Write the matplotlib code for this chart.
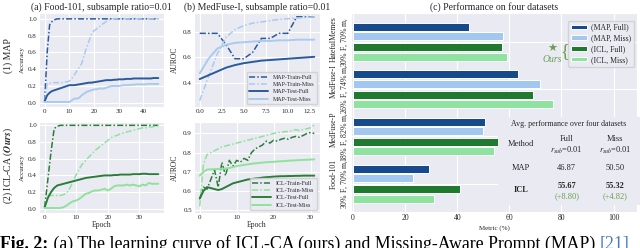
import numpy as np
import matplotlib.pyplot as plt
import seaborn as sns

sns.set_style('darkgrid')
plt.rcParams['font.family'] = ['Liberation Serif', 'DejaVu Serif']
plt.rcParams['mathtext.fontset'] = 'stix'

# ---- (a) Food-101 learning curves (accuracy) ----
a_map_train_full = [0.02, 0.60, 0.93, 0.97, 0.99, 1.0, 1.0, 1.0, 1.0, 1.0,
                    1.0, 1.0, 1.0, 1.0, 1.0, 1.0, 1.0, 1.0, 1.0, 1.0,
                    1.0, 1.0, 1.0, 1.0, 1.0, 1.0, 1.0, 1.0, 1.0, 1.0,
                    1.0, 1.0, 1.0, 1.0, 1.0, 1.0, 1.0, 1.0, 1.0, 1.0,
                    1.0, 1.0, 1.0, 1.0, 1.0, 1.0, 1.0]
a_map_train_miss = [0.02, 0.23, 0.23, 0.24, 0.24, 0.24, 0.24, 0.24, 0.25, 0.25,
                    0.26, 0.29, 0.33, 0.38, 0.42, 0.47, 0.57, 0.66, 0.74, 0.82,
                    0.86, 0.88, 0.90, 0.93, 0.95, 0.97, 0.99, 1.0, 1.0, 1.0,
                    1.0, 1.0, 1.0, 1.0, 1.0, 1.0, 1.0, 1.0, 1.0, 1.0,
                    1.0, 1.0, 1.0, 1.0, 1.0, 1.0, 1.0]
a_map_test_full = [0.02, 0.09, 0.12, 0.14, 0.15, 0.16, 0.17, 0.18, 0.19, 0.20,
                   0.21, 0.21, 0.21, 0.215, 0.22, 0.225, 0.23, 0.235, 0.24, 0.24,
                   0.245, 0.25, 0.255, 0.26, 0.265, 0.27, 0.27, 0.27, 0.275, 0.275,
                   0.28, 0.28, 0.28, 0.285, 0.285, 0.285, 0.29, 0.29, 0.29, 0.29,
                   0.29, 0.29, 0.29, 0.29, 0.295, 0.295, 0.295]
a_map_test_miss = [0.01, 0.01, 0.01, 0.01, 0.01, 0.01, 0.01, 0.01, 0.01, 0.01,
                   0.01, 0.03, 0.05, 0.05, 0.06, 0.09, 0.11, 0.13, 0.14, 0.15,
                   0.16, 0.16, 0.17, 0.17, 0.17, 0.18, 0.19, 0.20, 0.20, 0.20,
                   0.20, 0.205, 0.21, 0.21, 0.21, 0.215, 0.215, 0.22, 0.22, 0.22,
                   0.22, 0.22, 0.225, 0.225, 0.225, 0.225, 0.225]

a_icl_train_full = [0.02, 0.35, 0.68, 0.96, 0.99, 1.0, 1.0, 1.0, 1.0, 1.0,
                    1.0, 1.0, 1.0, 1.0, 1.0, 1.0, 1.0, 1.0, 1.0, 1.0,
                    1.0, 1.0, 1.0, 1.0, 1.0, 1.0, 1.0, 1.0, 1.0, 1.0,
                    1.0, 1.0, 1.0, 1.0, 1.0, 1.0, 1.0]
a_icl_train_miss = [0.02, 0.16, 0.16, 0.16, 0.16, 0.16, 0.17, 0.19, 0.25, 0.33,
                    0.41, 0.48, 0.54, 0.58, 0.62, 0.66, 0.70, 0.73, 0.76, 0.79,
                    0.82, 0.85, 0.87, 0.88, 0.90, 0.91, 0.92, 0.93, 0.94, 0.95,
                    0.96, 0.97, 0.97, 0.98, 0.98, 0.99, 0.99]
a_icl_test_full = [0.02, 0.13, 0.20, 0.25, 0.28, 0.29, 0.30, 0.31, 0.32, 0.33,
                   0.34, 0.35, 0.36, 0.37, 0.375, 0.38, 0.385, 0.39, 0.395, 0.40,
                   0.40, 0.40, 0.405, 0.405, 0.41, 0.41, 0.41, 0.41, 0.415, 0.415,
                   0.415, 0.42, 0.42, 0.415, 0.415, 0.415, 0.415]
a_icl_test_miss = [0.01, 0.01, 0.01, 0.01, 0.01, 0.01, 0.02, 0.04, 0.07, 0.09,
                   0.10, 0.12, 0.15, 0.18, 0.19, 0.21, 0.22, 0.22, 0.23, 0.24,
                   0.22, 0.24, 0.27, 0.28, 0.28, 0.28, 0.29, 0.28, 0.29, 0.28,
                   0.27, 0.29, 0.28, 0.31, 0.30, 0.30, 0.30]

# ---- (b) MedFuse-I learning curves (AUROC) ----
b_map_train_full = [0.79, 0.79, 0.79, 0.70, 0.59, 0.59, 0.64, 0.75, 0.75, 0.79,
                    0.79, 0.92, 0.92, 0.92]
b_map_train_miss = [0.26, 0.45, 0.63, 0.76, 0.82, 0.85, 0.87, 0.88, 0.89, 0.90,
                    0.905, 0.91, 0.915, 0.92]
b_map_test_full = [0.43, 0.46, 0.49, 0.52, 0.54, 0.555, 0.565, 0.575, 0.58, 0.585,
                   0.59, 0.595, 0.60, 0.605]
b_map_test_miss = [0.475, 0.59, 0.67, 0.70, 0.715, 0.72, 0.725, 0.73, 0.73, 0.735,
                   0.735, 0.74, 0.74, 0.74]

b_icl_train_full = [0.56, 0.62, 0.61, 0.66, 0.71, 0.62, 0.75, 0.68, 0.76, 0.73,
                    0.76, 0.75, 0.77, 0.76, 0.80, 0.82, 0.83, 0.84, 0.86, 0.85,
                    0.865, 0.86, 0.87, 0.875, 0.87, 0.88, 0.885, 0.88, 0.89, 0.90,
                    0.905, 0.90]
b_icl_train_miss = [0.52, 0.74, 0.79, 0.80, 0.81, 0.82, 0.83, 0.835, 0.84, 0.845,
                    0.85, 0.855, 0.86, 0.865, 0.87, 0.875, 0.88, 0.885, 0.89, 0.895,
                    0.90, 0.905, 0.905, 0.91, 0.91, 0.915, 0.92, 0.915, 0.92, 0.925,
                    0.93, 0.945]
b_icl_test_full = [0.56, 0.60, 0.62, 0.615, 0.61, 0.605, 0.61, 0.62, 0.63, 0.64,
                   0.645, 0.65, 0.655, 0.66, 0.662, 0.665, 0.667, 0.67, 0.672, 0.673,
                   0.675, 0.676, 0.677, 0.677, 0.678, 0.678, 0.679, 0.679, 0.68, 0.68,
                   0.68, 0.68]
b_icl_test_miss = [0.68, 0.70, 0.712, 0.713, 0.714, 0.715, 0.716, 0.717, 0.72, 0.725,
                   0.73, 0.733, 0.736, 0.739, 0.742, 0.744, 0.746, 0.748, 0.75, 0.751,
                   0.752, 0.754, 0.755, 0.756, 0.758, 0.759, 0.76, 0.761, 0.762, 0.763,
                   0.764, 0.765]

# ---- (c) performance on four datasets ----
datasets = ['HatefulMemes', 'MedFuse-I', 'MedFuse-P', 'Food-101']
splits = ['30% F, 70% m$_t$', '26% F, 74% m$_t$', '18% F, 82% m$_t$', '30% F, 70% m$_t$']
map_full = [44.6, 63.2, 50.7, 29.0]
map_miss = [57.4, 71.8, 49.8, 23.0]
icl_full = [57.2, 69.0, 55.5, 41.0]
icl_miss = [59.0, 76.9, 54.2, 31.2]
bar_labels = ['(MAP, Full)', '(MAP, Miss)', '(ICL, Full)', '(ICL, Miss)']

# table of averages
tab_methods = ['MAP', 'ICL']
tab_full = ['46.87', '55.67']
tab_miss = ['50.50', '55.32']
tab_gain = ['(+8.80)', '(+4.82)']

DARK_BLUE = '#2a5a9c'
LIGHT_BLUE = '#a8cbef'
DARK_GREEN = '#2a7d39'
LIGHT_GREEN = '#8fe29c'
BAR_COLORS = ['#174a8c', '#a2c7f0', '#1f7a30', '#8fe2a0']
OURS = '#6a9e52'
DASHDOT = (0, (4, 1.4, 1, 1.4))

W, H = 640, 248
fig = plt.figure(figsize=(6.4, 2.48), dpi=100)


def box(l, t, r, b):
    return [l / W, 1 - b / H, (r - l) / W, (b - t) / H]


def fx(px):
    return px / W


def fy(py):
    return 1 - py / H


def curves(ax, ys, dark, light, prefix, legend):
    x = np.arange(len(ys[0]))
    ax.plot(x, ys[0], color=dark, ls=DASHDOT, lw=1.1, label=prefix + '-Train-Full')
    ax.plot(x, ys[1], color=light, ls=DASHDOT, lw=1.1, label=prefix + '-Train-Miss')
    ax.plot(x, ys[2], color=dark, lw=1.4, label=prefix + '-Test-Full')
    ax.plot(x, ys[3], color=light, lw=1.4, label=prefix + '-Test-Miss')
    ax.tick_params(labelsize=5, pad=1.5, length=0)
    ax.grid(lw=0.8)
    if legend:
        ax.legend(loc='lower right', fontsize=4.3, handlelength=3.2,
                  labelspacing=0.35, borderpad=0.4, framealpha=0.8)


ax_a1 = fig.add_axes(box(39, 13, 164, 107))
ax_a2 = fig.add_axes(box(39, 122, 164, 213))
ax_b1 = fig.add_axes(box(194, 13, 320, 107))
ax_b2 = fig.add_axes(box(194, 122, 320, 213))
ax_c = fig.add_axes(box(351, 13, 637, 212))

curves(ax_a1, [a_map_train_full, a_map_train_miss, a_map_test_full, a_map_test_miss],
       DARK_BLUE, LIGHT_BLUE, 'MAP', False)
curves(ax_a2, [a_icl_train_full, a_icl_train_miss, a_icl_test_full, a_icl_test_miss],
       DARK_GREEN, LIGHT_GREEN, 'ICL', False)
curves(ax_b1, [b_map_train_full, b_map_train_miss, b_map_test_full, b_map_test_miss],
       DARK_BLUE, LIGHT_BLUE, 'MAP', True)
curves(ax_b2, [b_icl_train_full, b_icl_train_miss, b_icl_test_full, b_icl_test_miss],
       DARK_GREEN, LIGHT_GREEN, 'ICL', True)

ax_a1.set_xlim(-2.3, 48.3)
ax_a1.set_xticks([0, 10, 20, 30, 40])
ax_a1.set_ylim(-0.05, 1.07)
ax_a1.set_yticks([0.0, 0.2, 0.4, 0.6, 0.8, 1.0])
ax_a1.set_ylabel('Accuracy', fontsize=5, labelpad=2)
ax_a1.set_title('(a) Food-101, subsample ratio=0.01', fontsize=7, pad=2.5)

ax_a2.set_xlim(-1.8, 37.8)
ax_a2.set_xticks([0, 10, 20, 30])
ax_a2.set_ylim(-0.05, 1.04)
ax_a2.set_yticks([0.0, 0.2, 0.4, 0.6, 0.8, 1.0])
ax_a2.set_ylabel('Accuracy', fontsize=5, labelpad=2)
ax_a2.set_xlabel('Epoch', fontsize=5.5, labelpad=1)

ax_b1.set_xlim(-0.65, 13.65)
ax_b1.set_xticks([0, 2.5, 5, 7.5, 10, 12.5])
ax_b1.set_xticklabels(['0.0', '2.5', '5.0', '7.5', '10.0', '12.5'])
ax_b1.set_ylim(0.21, 0.95)
ax_b1.set_yticks([0.4, 0.6, 0.8])
ax_b1.set_ylabel('AUROC', fontsize=5.5, labelpad=3)
ax_b1.set_title('(b) MedFuse-I, subsample ratio=0.01', fontsize=7, pad=2.5)

ax_b2.set_xlim(-1.55, 32.55)
ax_b2.set_xticks([0, 10, 20, 30])
ax_b2.set_ylim(0.485, 0.96)
ax_b2.set_yticks([0.5, 0.6, 0.7, 0.8, 0.9])
ax_b2.set_ylabel('AUROC', fontsize=5.5, labelpad=3)
ax_b2.set_xlabel('Epoch', fontsize=5.5, labelpad=1)

fig.text(fx(8), fy(56), '(1) MAP', rotation=90, fontsize=7, ha='center', va='center')
fig.text(fx(8), fy(166), r'(2) ICL-CA ($\mathbfit{Ours}$)', rotation=90, fontsize=7,
         ha='center', va='center')

# ---- bars ----
base = np.arange(len(datasets)) * 5
offsets = [0, 1, 2.15, 3.15]
for vals, off, col, lab in zip([map_full, map_miss, icl_full, icl_miss], offsets,
                               BAR_COLORS, bar_labels):
    ax_c.barh(base + off, vals, height=0.85, color=col, edgecolor='white', lw=0.7, label=lab)
ax_c.set_ylim(19.55, -1.47)
ax_c.set_yticks(base + 1.575)
ax_c.set_yticklabels([d + '\n' + s for d, s in zip(datasets, splits)], rotation=90,
                     va='center', fontsize=5.6, linespacing=1.15)
ax_c.set_xlim(-0.8, 109)
ax_c.set_xticks([0, 20, 40, 60, 80, 100])
ax_c.tick_params(axis='x', labelsize=5.5, pad=1.5, length=0)
ax_c.tick_params(axis='y', pad=1, length=0)
ax_c.grid(lw=0.8)
ax_c.set_xlabel('Metric (%)', fontsize=5, labelpad=2)
ax_c.set_title('(c) Performance on four datasets', fontsize=7, pad=2.5)
ax_c.legend(loc='upper right', bbox_to_anchor=(fx(638), fy(17)), bbox_transform=fig.transFigure,
            fontsize=5.6, handlelength=2.0, handleheight=0.5, labelspacing=0.35,
            borderpad=0.35, handletextpad=0.6, framealpha=0.8)

fig.text(fx(552), fy(49), '★', color=OURS, fontsize=8, ha='center', va='center',
         family=['DejaVu Sans'])
fig.text(fx(552), fy(59), 'Ours', color=OURS, fontsize=7, style='italic',
         ha='center', va='center')
fig.text(fx(565), fy(52), '{', color=OURS, fontsize=13, ha='center', va='center')

# ---- table ----
fig.patches.append(plt.Rectangle((fx(498), fy(205)), fx(142), 88 / H, transform=fig.transFigure,
                                 facecolor='#eaeaf2', edgecolor='none', zorder=2))
fig.text(fx(569), fy(124), 'Avg. performance over four datasets', fontsize=5.7,
         ha='center', va='center')
for yy, lw in [(130.7, 0.9), (157.7, 0.6), (176.7, 1.1), (202.3, 0.9)]:
    fig.add_artist(plt.Line2D([fx(500), fx(640)], [fy(yy), fy(yy)], color='#333333', lw=lw,
                              transform=fig.transFigure))
for xx in [542.7, 591.7]:
    fig.add_artist(plt.Line2D([fx(xx), fx(xx)], [fy(130.7), fy(202.3)], color='#333333', lw=0.8,
                              transform=fig.transFigure))
col_x = [520.7, 566.7, 615]
fig.text(fx(col_x[0]), fy(144), 'Method', fontsize=6, ha='center', va='center')
for cx, name in zip(col_x[1:], ['Full', 'Miss']):
    fig.text(fx(cx), fy(139), name, fontsize=6, ha='center', va='center')
    fig.text(fx(cx), fy(150.5), r'$r_{sub}$=0.01', fontsize=6, ha='center', va='center')
fig.text(fx(col_x[0]), fy(167.5), tab_methods[0], fontsize=6, ha='center', va='center')
fig.text(fx(col_x[1]), fy(167.5), tab_full[0], fontsize=6, ha='center', va='center')
fig.text(fx(col_x[2]), fy(167.5), tab_miss[0], fontsize=6, ha='center', va='center')
fig.text(fx(col_x[0]), fy(189.5), tab_methods[1], fontsize=6, weight='bold', ha='center',
         va='center')
fig.text(fx(col_x[1]), fy(185.5), tab_full[1], fontsize=6, weight='bold', ha='center', va='center')
fig.text(fx(col_x[2]), fy(185.5), tab_miss[1], fontsize=6, weight='bold', ha='center', va='center')
fig.text(fx(col_x[1]), fy(196), tab_gain[0], fontsize=6, color=OURS, ha='center', va='center')
fig.text(fx(col_x[2]), fy(196), tab_gain[1], fontsize=6, color=OURS, ha='center', va='center')

# ---- caption (cut off at the bottom edge, as in the source page) ----
r = fig.canvas.get_renderer()
x0 = fx(0.5)
parts = [('Fig. 2:', 'bold', 'black'),
         (' (a) The learning curve of ICL-CA (ours) and Missing-Aware Prompt (MAP) ', 'normal', 'black'),
         ('[21]', 'normal', '#4a7bbf')]
for txt, wt, col in parts:
    t = fig.text(x0, fy(249), txt, fontsize=12.8, weight=wt, color=col, va='baseline')
    x0 = t.get_window_extent(r).x1 / W

fig.savefig('out.png', dpi=100)
